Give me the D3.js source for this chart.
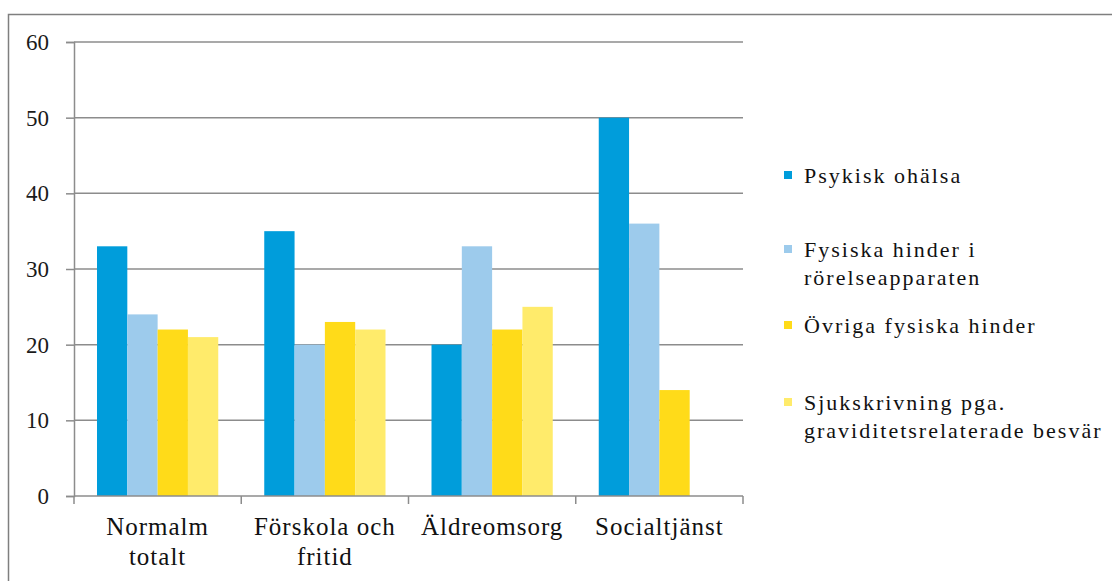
<!DOCTYPE html>
<html>
<head>
<meta charset="utf-8">
<script src="https://cdn.jsdelivr.net/npm/d3@7"></script>
<style>
  html, body { margin: 0; padding: 0; background: #fff; }
  svg { display: block; }
</style>
</head>
<body>
<svg id="chart" width="1112" height="581"></svg>
<script>
// Categories (each may wrap onto two lines)
const categories = ["Normalm totalt", "Förskola och fritid", "Äldreomsorg", "Socialtjänst"];
const categoryLines = [["Normalm", "totalt"], ["Förskola och", "fritid"], ["Äldreomsorg"], ["Socialtjänst"]];

// Series
const seriesNames = ["Psykisk ohälsa", "Fysiska hinder i rörelseapparaten", "Övriga fysiska hinder", "Sjukskrivning pga. graviditetsrelaterade besvär"];
const seriesLegendLines = [["Psykisk ohälsa"], ["Fysiska hinder i", "rörelseapparaten"], ["Övriga fysiska hinder"], ["Sjukskrivning pga.", "graviditetsrelaterade besvär"]];
const psykisk = [33, 35, 20, 50];
const fysiskaRorelse = [24, 20, 33, 36];
const ovrigaFysiska = [22, 23, 22, 14];
const sjukskrivning = [21, 22, 25, null];
const seriesValues = [psykisk, fysiskaRorelse, ovrigaFysiska, sjukskrivning];
const seriesColors = ["#009ddb", "#9dcbec", "#ffdb19", "#ffeb6b"];

// Y axis ticks
const yTicks = [0, 10, 20, 30, 40, 50, 60];

const SERIF = '"Liberation Serif", serif';

const svg = d3.select("#chart");

// Outer frame (open to the right and bottom)
svg.append("rect")
  .attr("x", 8.5).attr("y", 14.5)
  .attr("width", 1200).attr("height", 700)
  .attr("fill", "none").attr("stroke", "#7f7f7f").attr("stroke-width", 1.5);

const plot = { left: 74, right: 743, top: 42, bottom: 496 };

const x = d3.scaleBand().domain(categories).range([plot.left, plot.right]).padding(0);
const inner = d3.scaleBand().domain(d3.range(seriesNames.length))
  .range([23, x.bandwidth() - 23]).padding(0);
const y = d3.scaleLinear().domain([0, 60]).range([plot.bottom, plot.top]);

// Horizontal gridlines
svg.append("g").selectAll("line").data(yTicks.filter(t => t > 0)).join("line")
  .attr("x1", plot.left).attr("x2", plot.right)
  .attr("y1", d => y(d)).attr("y2", d => y(d))
  .attr("stroke", "#8c8c8c").attr("stroke-width", 1.5);

// Bars
const rows = [];
categories.forEach((c, ci) => {
  seriesValues.forEach((vals, si) => {
    if (vals[ci] != null) rows.push({ c, si, v: vals[ci] });
  });
});
svg.append("g").selectAll("rect").data(rows).join("rect")
  .attr("x", d => x(d.c) + inner(d.si))
  .attr("y", d => y(d.v))
  .attr("width", inner.bandwidth())
  .attr("height", d => y(0) - y(d.v))
  .attr("fill", d => seriesColors[d.si]);

// Y axis
const yAxis = d3.axisLeft(y).tickValues(yTicks).tickSize(8).tickPadding(17).tickFormat(d3.format("d"));
const gy = svg.append("g").attr("transform", `translate(${plot.left},0)`).call(yAxis)
  .attr("font-family", "Liberation Serif").attr("font-size", 23);
gy.select(".domain").attr("stroke", "#8c8c8c").attr("stroke-width", 1.5);
gy.selectAll(".tick line").attr("stroke", "#8c8c8c").attr("stroke-width", 1.5);
gy.selectAll(".tick text")
  .style("font-family", SERIF).style("font-size", "23px").attr("fill", "#1a1a1a");

// X axis (category boundaries as ticks)
const xAxisLine = svg.append("g");
xAxisLine.append("line")
  .attr("x1", plot.left).attr("x2", plot.right)
  .attr("y1", plot.bottom).attr("y2", plot.bottom)
  .attr("stroke", "#8c8c8c").attr("stroke-width", 1.5);
const boundaries = categories.map(c => x(c)).concat([plot.right]);
xAxisLine.selectAll("line.b").data(boundaries).join("line").attr("class", "b")
  .attr("x1", d => d).attr("x2", d => d)
  .attr("y1", plot.bottom).attr("y2", plot.bottom + 8)
  .attr("stroke", "#8c8c8c").attr("stroke-width", 1.5);

// Category labels, one text element per line
const catRows = [];
categories.forEach((c, ci) => {
  categoryLines[ci].forEach((line, li) => catRows.push({ c, line, li }));
});
svg.append("g").attr("font-family", "Liberation Serif").attr("font-size", 25)
  .selectAll("text").data(catRows).join("text")
  .attr("x", d => x(d.c) + x.bandwidth() / 2)
  .attr("y", d => 535 + d.li * 30)
  .attr("text-anchor", "middle").attr("fill", "#111")
  .style("font-family", SERIF).style("font-size", "25px").style("letter-spacing", "1px")
  .text(d => d.line);

// Legend
const legendBaselines = [183, 257, 333, 410];
const legendRows = [];
seriesNames.forEach((s, si) => {
  seriesLegendLines[si].forEach((line, li) => legendRows.push({ si, line, li }));
});
const legend = svg.append("g").attr("font-family", "Liberation Serif").attr("font-size", 22);
legend.selectAll("rect").data(seriesNames).join("rect")
  .attr("x", 784).attr("y", (d, i) => legendBaselines[i] - 12)
  .attr("width", 8).attr("height", 8)
  .attr("fill", (d, i) => seriesColors[i]);
legend.selectAll("text").data(legendRows).join("text")
  .attr("x", 804).attr("y", d => legendBaselines[d.si] + d.li * 28)
  .attr("fill", "#111")
  .style("font-family", SERIF).style("font-size", "22px").style("letter-spacing", "2px")
  .text(d => d.line);
</script>
</body>
</html>
